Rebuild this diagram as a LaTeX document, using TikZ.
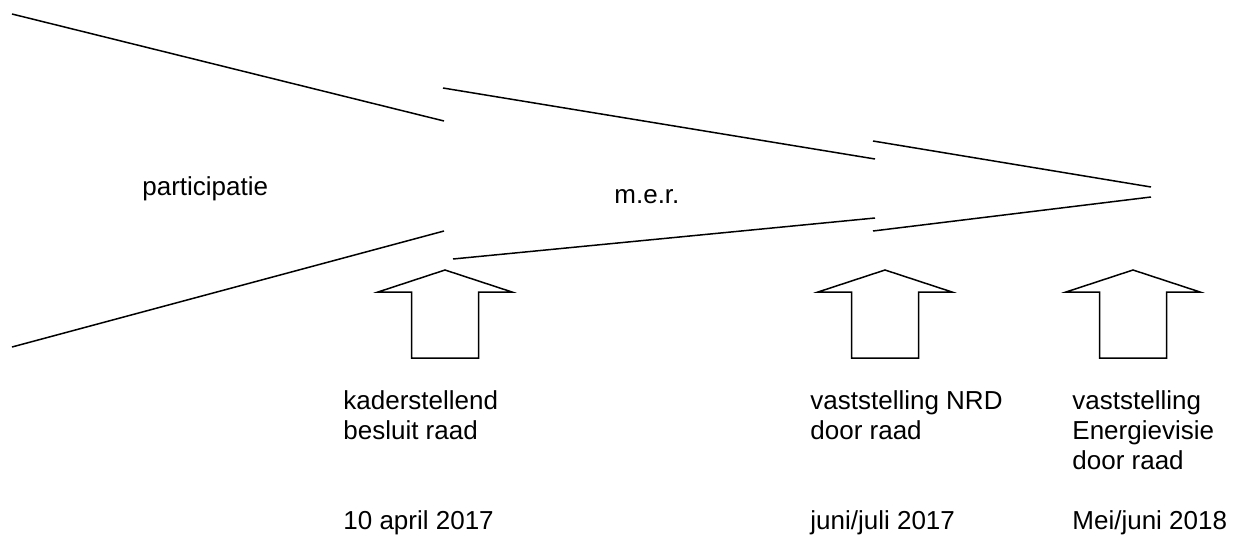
\documentclass[tikz,border=0pt]{standalone}
\usepackage{fontspec}
\setmainfont{Liberation Sans}
\begin{document}
\begin{tikzpicture}[x=0.5pt,y=-0.5pt,
  ln/.style={line width=0.75pt, line join=miter},
  lbl/.style={inner sep=0pt, anchor=base west, align=left, font=\fontsize{13}{15}\selectfont},
  uparrow/.pic={\draw[ln] (-33.5,88) -- (-33.5,22) -- (-67,22) -- (0,0) -- (67,22) -- (33.5,22) -- (33.5,88) -- cycle;}]
\useasboundingbox (0,0) rectangle (1240,535);
% funnel segments
\coordinate (a1) at (12,14);   \coordinate (a2) at (444,121);
\coordinate (b1) at (12,347);  \coordinate (b2) at (444,231);
\coordinate (c1) at (443,88);  \coordinate (c2) at (875,159);
\coordinate (d1) at (453,259); \coordinate (d2) at (875,218);
\coordinate (e1) at (873,141); \coordinate (e2) at (1151,187);
\coordinate (f1) at (873,231); \coordinate (f2) at (1151,197);
\draw[ln] (a1) -- (a2);
\draw[ln] (b1) -- (b2);
\draw[ln] (c1) -- (c2);
\draw[ln] (d1) -- (d2);
\draw[ln] (e1) -- (e2);
\draw[ln] (f1) -- (f2);
% arrows
\pic (arr1) at (445,270) {uparrow};
\pic (arr2) at (885,270) {uparrow};
\pic (arr3) at (1133,270) {uparrow};
% labels (base anchor = baseline of last line)
\node[lbl] (part) at (142,195) {participatie};
\node[lbl] (mer) at (614,203) {m.e.r.};
\node[lbl] (t1) at (343,439) {kaderstellend\\besluit raad};
\node[lbl] (t2) at (810,439) {vaststelling NRD\\door raad};
\node[lbl] (t3) at (1072,469) {vaststelling\\Energievisie\\door raad};
\node[lbl] (d1t) at (343,529) {10 april 2017};
\node[lbl] (d2t) at (810,529) {juni/juli 2017};
\node[lbl] (d3t) at (1072,529) {Mei/juni 2018};
\end{tikzpicture}
\end{document}
